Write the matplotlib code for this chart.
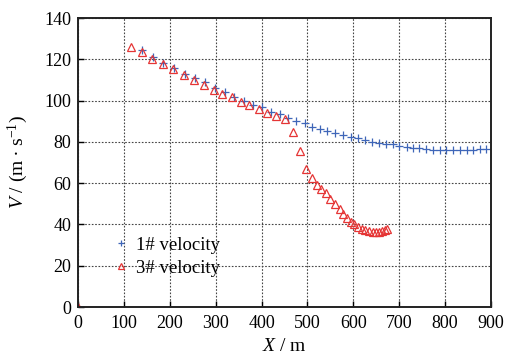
import matplotlib.pyplot as plt

plt.rcParams["font.family"] = ["Liberation Serif", "DejaVu Serif"]
plt.rcParams["mathtext.fontset"] = "custom"
plt.rcParams["mathtext.rm"] = "Liberation Serif"
plt.rcParams["mathtext.it"] = "Liberation Serif:italic"

# 1# velocity (blue crosses)
x1 = [0, 140, 164, 186, 209, 233, 255, 277, 298, 320, 340, 362, 382, 402, 420,
      440, 458, 476, 495, 511, 527, 543, 561, 578, 596, 611, 625, 641, 656, 671,
      686, 700, 716, 729, 744, 758, 774, 789, 803, 818, 832, 847, 861, 876, 890]
v1 = [0, 124.5, 121.3, 118.1, 115.6, 112.7, 110.8, 108.9, 106.2, 104.0, 101.9,
      99.9, 97.9, 96.8, 94.6, 93.4, 91.7, 90.1, 89.0, 87.4, 86.2, 85.3, 84.4,
      83.3, 82.5, 81.7, 80.9, 80.1, 79.6, 79.0, 78.8, 78.2, 77.7, 77.2, 76.9,
      76.4, 76.1, 76.1, 75.9, 76.1, 76.1, 76.1, 76.1, 76.4, 76.6]

# 3# velocity (red triangles)
x3 = [0, 115, 139, 162, 186, 208, 231, 253, 275, 296, 314, 335, 355, 373, 395,
      411, 431, 451, 468, 484, 497, 510, 520, 530, 540, 550, 560, 570, 578, 586,
      594, 602, 610, 618, 626, 634, 642, 650, 656, 662, 668, 674]
v3 = [0, 126.1, 123.4, 120.2, 117.6, 115.3, 112.4, 110.0, 107.6, 105.2, 103.1,
      101.6, 99.5, 97.9, 95.8, 94.1, 92.5, 90.9, 84.6, 75.6, 66.9, 62.4, 59.0,
      57.0, 55.0, 52.5, 50.0, 47.5, 45.0, 43.0, 41.0, 40.0, 39.0, 38.0, 37.5,
      37.0, 36.5, 36.5, 36.5, 37.0, 37.5, 38.0]

xticks = [0, 100, 200, 300, 400, 500, 600, 700, 800, 900]
yticks = [0, 20, 40, 60, 80, 100, 120, 140]

fig = plt.figure(figsize=(5.08, 3.59), dpi=100)
ax = fig.add_axes([0.1535, 0.1448, 0.813, 0.805])

ax.plot(x1, v1, linestyle="none", marker="+", color="#3f66b8",
        markersize=6, markeredgewidth=0.9, label="1# velocity")
ax.plot(x3, v3, linestyle="none", marker="^", markerfacecolor="none",
        markeredgecolor="#e53535", markersize=5.5, markeredgewidth=0.9,
        label="3# velocity")

ax.set_xlim(0, 900)
ax.set_ylim(0, 140)
ax.set_xticks(xticks)
ax.set_yticks(yticks)
ax.tick_params(direction="in", length=4, width=1, labelsize=13)
ax.tick_params(axis="x", pad=6)
ax.tick_params(axis="y", pad=5)
ax.grid(True, linestyle=(0, (1.5, 1.5)), color="#444444", linewidth=0.8)

for s in ax.spines.values():
    s.set_linewidth(1.4)
    s.set_color("#222222")

ax.set_xlabel(r"$\mathit{X}$ / m", fontsize=14, labelpad=4)
ax.set_ylabel(r"$\mathit{V}$ / (m $\bullet$ s$^{-1}$)", fontsize=14, labelpad=10)

ax.legend(loc="lower left", bbox_to_anchor=(0.05, 0.06), frameon=False,
          fontsize=13.5, handlelength=1.0, handletextpad=0.3, labelspacing=0.3,
          borderaxespad=0.3, markerscale=0.7)

fig.savefig("out.png", dpi=100)
